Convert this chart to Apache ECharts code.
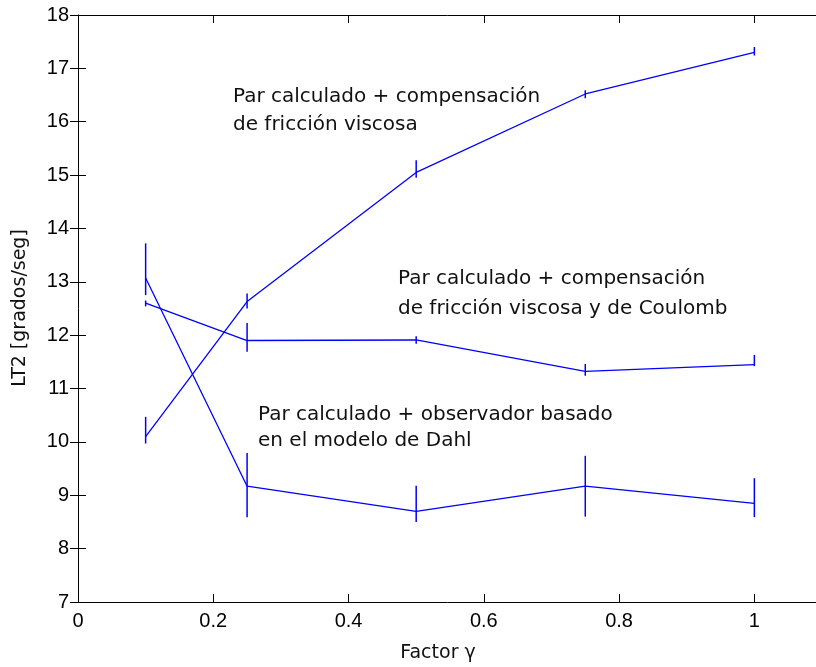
<!DOCTYPE html>
<html>
<head>
<meta charset="utf-8">
<script src="https://cdn.jsdelivr.net/npm/echarts@6/dist/echarts.min.js"></script>
<style>
  html, body { margin: 0; padding: 0; background: #fff; }
  #chart { width: 816px; height: 667px; }
</style>
</head>
<body>
<div id="chart"></div>
<script>
// Factor γ values where each controller was evaluated
const factor = [0.1, 0.25, 0.5, 0.75, 1];

// Par calculado + compensación de fricción viscosa
const viscosa     = [10.1, 12.63, 15.05, 16.52, 17.3];
const viscosaLow  = [9.97, 12.5, 14.95, 16.44, 17.24];
const viscosaHigh = [10.47, 12.78, 15.28, 16.59, 17.4];

// Par calculado + compensación de fricción viscosa y de Coulomb
const coulomb     = [12.6, 11.9, 11.91, 11.32, 11.45];
const coulombLow  = [12.54, 11.69, 11.84, 11.24, 11.42];
const coulombHigh = [12.65, 12.23, 11.98, 11.46, 11.63];

// Par calculado + observador basado en el modelo de Dahl
const dahl     = [13.07, 9.17, 8.7, 9.17, 8.85];
const dahlLow  = [12.75, 8.59, 8.5, 8.6, 8.59];
const dahlHigh = [13.72, 9.79, 9.18, 9.74, 9.32];

const xTicks = [0, 0.2, 0.4, 0.6, 0.8, 1];
const yTicks = [7, 8, 9, 10, 11, 12, 13, 14, 15, 16, 17, 18];

const FONT = '"Liberation Sans", Arial, sans-serif';
const TFONT = '"DejaVu Sans", sans-serif';
const BLUE = '#0000ff';

const chart = echarts.init(document.getElementById('chart'), null, { renderer: 'canvas' });

function pairs(ys) { return factor.map((x, i) => [x, ys[i]]); }
function bars(lo, hi) { return factor.map((x, i) => [x, lo[i], hi[i]]); }

function lineSeries(name, ys) {
  return {
    name, type: 'line', data: pairs(ys),
    symbol: 'none', animation: false,
    lineStyle: { color: BLUE, width: 1.3 }
  };
}
function errSeries(name, lo, hi) {
  return {
    name: name + ' (error)', type: 'custom', data: bars(lo, hi), animation: false,
    renderItem(params, api) {
      const a = api.coord([api.value(0), api.value(1)]);
      const b = api.coord([api.value(0), api.value(2)]);
      return {
        type: 'line',
        shape: { x1: a[0], y1: a[1], x2: b[0], y2: b[1] },
        style: { stroke: BLUE, lineWidth: 1.5 }
      };
    }
  };
}

const axisCommon = {
  axisLine: { show: true, onZero: false, lineStyle: { color: '#000', width: 1 } },
  axisTick: { show: true, inside: true, length: 8, lineStyle: { color: '#000' } },
  splitLine: { show: false }
};

function textLine(x, y, t) {
  return { type: 'text', x: x, y: y, style: { text: t, font: '20px ' + TFONT, fill: '#111' } };
}

chart.setOption({
  backgroundColor: '#fff',
  animation: false,
  grid: { left: 78, top: 15, width: 744, height: 587, containLabel: false, outerBoundsMode: 'none' },
  xAxis: [
    Object.assign({}, axisCommon, {
      type: 'value', min: 0, max: 1.1, interval: 0.2, position: 'bottom',
      axisLabel: {
        showMaxLabel: false, margin: 9, color: '#000', fontSize: 20, fontFamily: FONT,
        formatter: v => (xTicks.some(t => Math.abs(t - v) < 1e-9) ? String(+v.toFixed(1)) : '')
      }
    }),
    Object.assign({}, axisCommon, {
      type: 'value', min: 0, max: 1.1, interval: 0.2, position: 'top',
      axisLabel: { show: false }
    })
  ],
  yAxis: [
    Object.assign({}, axisCommon, {
      type: 'value', min: 7, max: 18, interval: 1, position: 'left',
      axisLabel: { margin: 9, color: '#000', fontSize: 20, fontFamily: FONT,
        formatter: v => (yTicks.includes(v) ? String(v) : '') }
    }),
    Object.assign({}, axisCommon, {
      type: 'value', min: 7, max: 18, interval: 1, position: 'right',
      axisLine: { show: false },
      axisLabel: { show: false }
    })
  ],
  graphic: [
    textLine(233, 87, 'Par calculado + compensación'),
    textLine(233, 115, 'de fricción viscosa'),
    textLine(398, 269, 'Par calculado + compensación'),
    textLine(398, 299, 'de fricción viscosa y de Coulomb'),
    textLine(258, 405, 'Par calculado + observador basado'),
    textLine(258, 431, 'en el modelo de Dahl'),
    { type: 'text', x: 438, y: 644,
      style: { text: 'Factor γ', font: '19px ' + TFONT, fill: '#111', align: 'center' } },
    { type: 'text', x: 11, y: 308, rotation: Math.PI / 2,
      style: { text: 'LT2 [grados/seg]', font: '19px ' + TFONT, fill: '#111', align: 'center', verticalAlign: 'top' } }
  ],
  series: [
    lineSeries('Viscosa', viscosa),
    errSeries('Viscosa', viscosaLow, viscosaHigh),
    lineSeries('Coulomb', coulomb),
    errSeries('Coulomb', coulombLow, coulombHigh),
    lineSeries('Dahl', dahl),
    errSeries('Dahl', dahlLow, dahlHigh)
  ]
});
</script>
</body>
</html>
